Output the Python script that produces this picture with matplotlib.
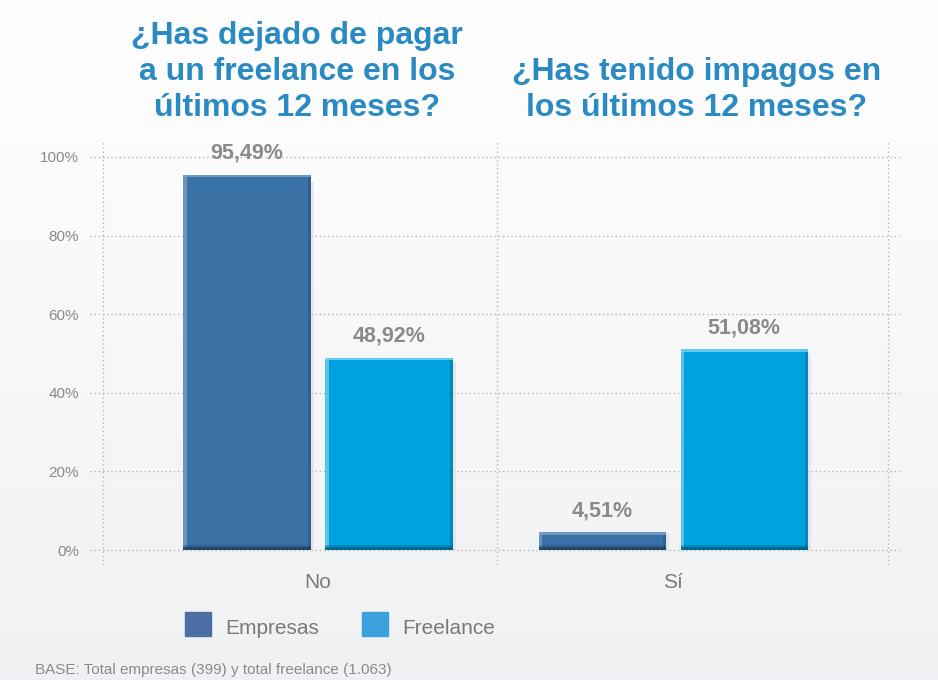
import numpy as np
import matplotlib
matplotlib.use("Agg")
import matplotlib.pyplot as plt
from matplotlib.patches import Rectangle

categories = ["No", "Sí"]
empresas = [95.49, 4.51]
freelance = [48.92, 51.08]
series_names = ["Empresas", "Freelance"]
yticks = [0, 20, 40, 60, 80, 100]
title_left = "¿Has dejado de pagar\na un freelance en los\núltimos 12 meses?"
title_right = "¿Has tenido impagos en\nlos últimos 12 meses?"
footer = "BASE: Total empresas (399) y total freelance (1.063)"

c_emp = "#3b72a6"
c_fre = "#00a1df"
c_emp_leg = "#4b6ea5"
c_fre_leg = "#3aa1dc"
grey = "#8a8a8a"
title_col = "#2a8ac4"

plt.rcParams['font.family'] = ['Liberation Sans', 'DejaVu Sans']

fig = plt.figure(figsize=(9.38, 6.8), dpi=100)

# background gradient
bg = fig.add_axes([0, 0, 1, 1], zorder=-10)
grad = np.linspace(0, 1, 256).reshape(-1, 1)
top = np.array([1.0, 1.0, 1.0])
bot = np.array([0.94, 0.945, 0.953])
img = top + (bot - top) * grad[:, :, None]
bg.imshow(img, aspect="auto", extent=[0, 1, 0, 1])
bg.axis("off")

ax = fig.add_axes([90 / 938, 115 / 680, 810 / 938, 425 / 680])
ax.set_facecolor("none")
ax.set_xlim(-0.642, 1.639)
ax.set_ylim(-3.8, 104.3)
for s in ax.spines.values():
    s.set_visible(False)

x = np.arange(len(categories))
w = 0.358
off = 0.2


def bevel_bar(xc, h, color, dark, light):
    ax.bar(xc, h, w, color=color, zorder=3)
    # soft shadow on the right
    ax.add_patch(Rectangle((xc + w / 2, 0), 0.01, h * 0.98, color="#d5d8dc", alpha=0.5, zorder=2, lw=0))
    ax.add_patch(Rectangle((xc - w / 2, 0), 0.009, h, color=light, alpha=0.7, zorder=4, lw=0))
    ax.add_patch(Rectangle((xc + w / 2 - 0.008, 0), 0.008, h, color=dark, alpha=0.35, zorder=4, lw=0))
    ax.add_patch(Rectangle((xc - w / 2, 0), w, 0.8, color=dark, alpha=0.85, zorder=5, lw=0))
    ax.add_patch(Rectangle((xc - w / 2, 0.8), w, 0.5, color=dark, alpha=0.35, zorder=5, lw=0))
    ax.add_patch(Rectangle((xc - w / 2, h - 0.7), w, 0.7, color=light, alpha=0.8, zorder=5, lw=0))


for i in range(len(categories)):
    bevel_bar(x[i] - off, empresas[i], c_emp, "#1f3f63", "#7ea3c8")
    bevel_bar(x[i] + off, freelance[i], c_fre, "#005f85", "#7fd0f2")
    ax.text(x[i] - off, empresas[i] + 2.8, f"{empresas[i]:.2f}%".replace(".", ","),
            ha="center", va="bottom", fontsize=15.5, fontweight="bold", color=grey, zorder=6)
    ax.text(x[i] + off, freelance[i] + 2.8, f"{freelance[i]:.2f}%".replace(".", ","),
            ha="center", va="bottom", fontsize=15.5, fontweight="bold", color=grey, zorder=6)

# grid
for yv in yticks:
    ax.plot([-0.642, 1.639], [yv, yv], ls=(0, (1, 2)), color="#b5b5b5", lw=1, zorder=1)
for xv in [-0.606, 0.504, 1.606]:
    ax.plot([xv, xv], [-3.8, 104.3], ls=(0, (1, 2)), color="#b5b5b5", lw=1, zorder=1)

ax.set_yticks(yticks)
ax.set_yticklabels([f"{v}%" for v in yticks], fontsize=11, color=grey)
ax.tick_params(axis="y", length=0, pad=8)
ax.set_xticks(x)
ax.set_xticklabels(categories, fontsize=15, color="#7a7a7a")
ax.tick_params(axis="x", length=0, pad=6)

fig.text(297 / 938, 1 - 72 / 680, title_left, ha="center", va="center", fontsize=23,
         fontweight="bold", color=title_col, linespacing=1.27)
fig.text(697 / 938, 1 - 90 / 680, title_right, ha="center", va="center", fontsize=23,
         fontweight="bold", color=title_col, linespacing=1.27)

# legend
for px, col, name in [(185, c_emp_leg, series_names[0]), (362, c_fre_leg, series_names[1])]:
    fig.patches.append(Rectangle((px / 938, 1 - 636 / 680), 26 / 938, 24 / 680, color=col,
                                 transform=fig.transFigure, figure=fig))
    fig.text((px + 40) / 938, 1 - 628 / 680, name, ha="left", va="center", fontsize=15, color="#7a7a7a")

fig.text(35 / 938, 1 - 670 / 680, footer, ha="left", va="center", fontsize=11, color=grey)

fig.savefig("out.png", dpi=100)
